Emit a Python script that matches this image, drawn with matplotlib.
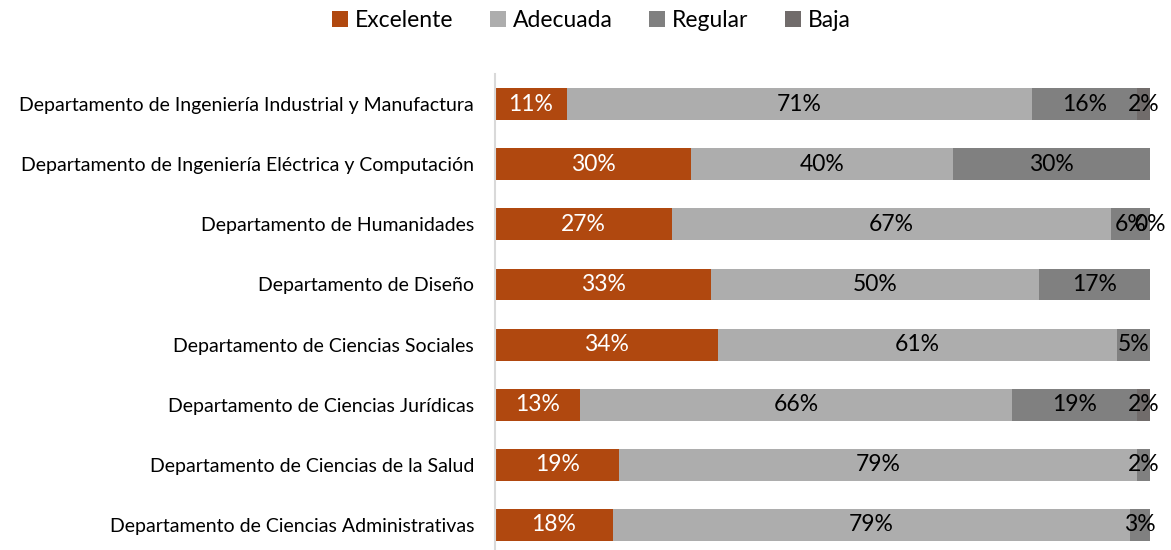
import matplotlib
matplotlib.use("Agg")
import matplotlib.pyplot as plt
import numpy as np

plt.rcParams['font.family'] = ['Lato', 'DejaVu Sans']

categories = [
    "Departamento de Ingeniería Industrial y Manufactura",
    "Departamento de Ingeniería Eléctrica y Computación",
    "Departamento de Humanidades",
    "Departamento de Diseño",
    "Departamento de Ciencias Sociales",
    "Departamento de Ciencias Jurídicas",
    "Departamento de Ciencias de la Salud",
    "Departamento de Ciencias Administrativas",
]
excelente = [11, 30, 27, 33, 34, 13, 19, 18]
adecuada = [71, 40, 67, 50, 61, 66, 79, 79]
regular = [16, 30, 6, 17, 5, 19, 2, 3]
baja = [2, np.nan, 0, np.nan, np.nan, 2, np.nan, np.nan]

series_names = ["Excelente", "Adecuada", "Regular", "Baja"]
colors = ["#B0480F", "#ADADAD", "#808080", "#716C6B"]
text_colors = ["white", "black", "black", "black"]

fig = plt.figure(figsize=(11.71, 5.5), dpi=100)
ax = fig.add_axes([0.4227, 0.0, 0.5593, 0.8655])

y = np.arange(len(categories))[::-1]
left = np.zeros(len(categories))
handles = []
for name, vals, c, tc in zip(series_names, [excelente, adecuada, regular, baja], colors, text_colors):
    v = np.array(vals, dtype=float)
    w = np.nan_to_num(v)
    bars = ax.barh(y, w, left=left, height=0.53, color=c, label=name)
    handles.append(bars)
    for yi, li, vi in zip(y, left, v):
        if not np.isnan(vi):
            ax.text(li + vi / 2, yi, f"{int(vi)}%", ha="center", va="center",
                    color=tc, fontsize=16.5)
    left = left + w

ax.set_xlim(0, 100)
ax.set_ylim(-0.416, 7.5)
ax.set_yticks(y)
ax.set_yticklabels(categories, fontsize=14)
ax.set_xticks([])
for s in ["top", "right", "bottom"]:
    ax.spines[s].set_visible(False)
ax.spines["left"].set_color("#D9D9D9")
ax.spines["left"].set_linewidth(1.5)
ax.tick_params(axis="y", length=0, pad=15)

fig.legend(handles=handles, labels=series_names, loc="center", bbox_to_anchor=(0.505, 0.963),
           ncol=4, frameon=False, fontsize=16.5, handlelength=0.7, handleheight=0.7,
           handletextpad=0.3, columnspacing=1.6)

fig.savefig("out.png", dpi=100)
